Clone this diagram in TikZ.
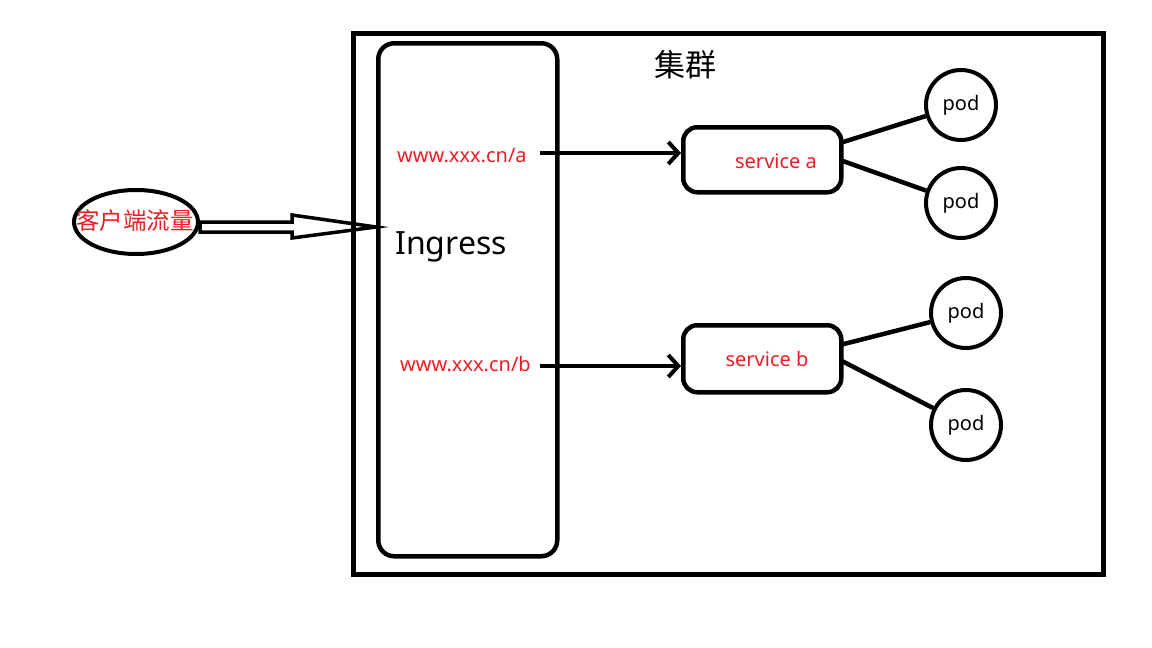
\documentclass[tikz,border=0pt]{standalone}
\usepackage{fontspec}
\setmainfont{Noto Sans}
\newfontfamily\cjk{Noto Sans CJK SC}
\usetikzlibrary{arrows.meta,shapes.geometric,calc}
\definecolor{lblred}{HTML}{EE1C25}
\begin{document}
\begin{tikzpicture}[x=1pt,y=-1pt,
  box/.style={draw,line width=4.5pt,rounded corners=14pt,inner sep=0pt},
  poddisk/.style={draw,circle,line width=4pt,minimum size=70pt,inner sep=0pt,font=\fontsize{20}{20}\selectfont},
  redlbl/.style={text=lblred,font=\fontsize{20}{20}\selectfont,inner sep=0pt},
  link/.style={line width=4.5pt},
  arr/.style={line width=4.5pt,-{Straight Barb[length=10pt,width=22pt,line width=4pt]}}]
\useasboundingbox (0,0) rectangle (1152,648);
\node[draw,line width=4.5pt,minimum width=750pt,minimum height=541pt,inner sep=0pt,anchor=north west] (cluster) at (351,31) {};
\node[box,minimum width=179pt,minimum height=513pt,anchor=north west,rounded corners=16pt] (ing) at (376,41) {};
\node[font=\cjk\fontsize{31}{31}\selectfont,inner sep=0pt] (title) at (685,65) {集群};
\node[font=\fontsize{32}{32}\selectfont,inner sep=0pt,anchor=west] (ingt) at (395,247) {Ingress};
\node[redlbl,anchor=west] (ua) at (397,155) {www.xxx.cn/a};
\node[redlbl,anchor=west] (ub) at (400,364) {www.xxx.cn/b};
\node[box,minimum width=158pt,minimum height=65pt,anchor=north west] (sa) at (681,125) {};
\node[redlbl] (sat) at (776,161) {service a};
\node[box,minimum width=158pt,minimum height=67pt,anchor=north west] (sb) at (681,323) {};
\node[redlbl] (sbt) at (767,359) {service b};
\node[poddisk] (p1) at (961,105) {pod};
\node[poddisk] (p2) at (961,203) {pod};
\node[poddisk] (p3) at (966,313) {pod};
\node[poddisk] (p4) at (966,425) {pod};
\coordinate (sa1) at (840,143);
\coordinate (sa2) at (840,160);
\coordinate (sb1) at (840,345);
\coordinate (sb2) at (840,360);
\draw[link] (sa1) -- (p1);
\draw[link] (sa2) -- (p2);
\draw[link] (sb1) -- (p3);
\draw[link] (sb2) -- (p4);
\coordinate (aa) at (540,153);
\coordinate (ab) at (540,366);
\draw[arr] (aa) -- (sa.west |- aa);
\draw[arr] (ab) -- (sb.west |- ab);
\node[draw,ellipse,line width=4pt,minimum width=124pt,minimum height=64pt,inner sep=0pt] (client) at (136,222) {};
\node[text=lblred,font=\cjk\fontsize{23.5}{23.5}\selectfont,inner sep=0pt] (clientt) at (135,221) {客户端流量};
\draw[line width=3.5pt,line join=miter]
  (client.east |- 0,222) -- (292,222) -- (292,215) -- (ing.west |- 0,227) -- (292,238) -- (292,232) -- (client.east |- 0,232) -- cycle;
\end{tikzpicture}
\end{document}
